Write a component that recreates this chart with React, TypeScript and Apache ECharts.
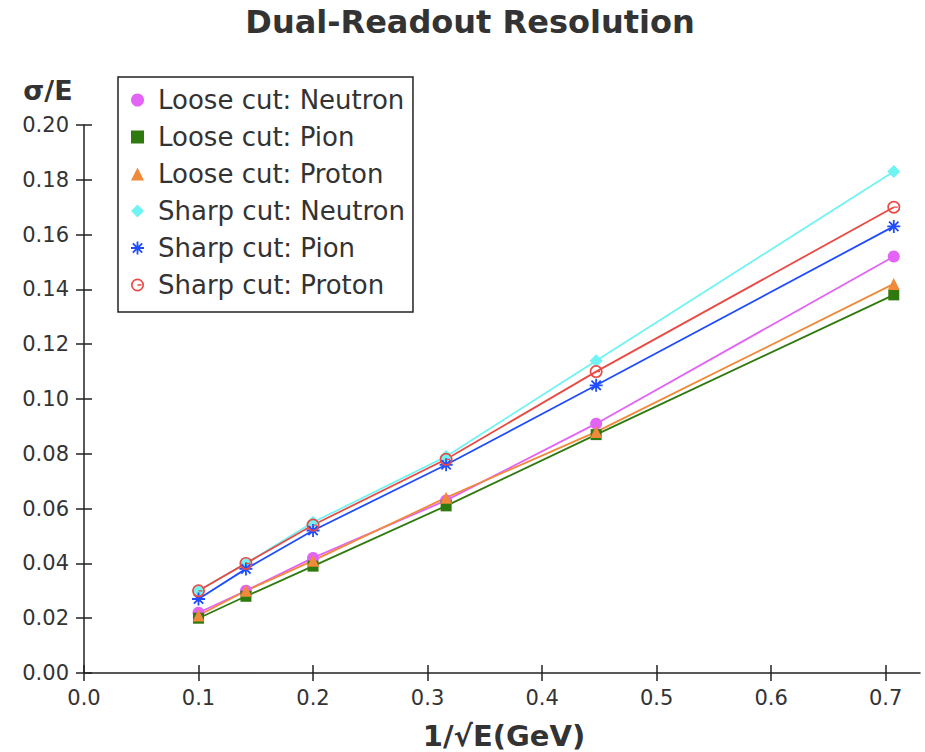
import React, { useEffect, useRef } from "react";
import * as echarts from "echarts";

// 1/sqrt(E) for beam energies 100, 50, 25, 10, 5, 2 GeV
const xValues = [0.1, 0.1414, 0.2, 0.3162, 0.4472, 0.7071];

const looseNeutron = [0.022, 0.030, 0.042, 0.063, 0.091, 0.152];
const loosePion = [0.020, 0.028, 0.039, 0.061, 0.087, 0.138];
const looseProton = [0.021, 0.030, 0.041, 0.064, 0.088, 0.142];
const sharpNeutron = [0.030, 0.040, 0.055, 0.079, 0.114, 0.183];
const sharpPion = [0.027, 0.038, 0.052, 0.076, 0.105, 0.163];
const sharpProton = [0.030, 0.040, 0.054, 0.078, 0.110, 0.170];

const xTicks = [0, 0.1, 0.2, 0.3, 0.4, 0.5, 0.6, 0.7];
const yTicks = [0, 0.02, 0.04, 0.06, 0.08, 0.1, 0.12, 0.14, 0.16, 0.18, 0.2];

const FONT = "DejaVu Sans";
const TEXT = "#333333";
const AXIS = "#222222";

const asterisk =
  "path://M8.6 0 H11.4 V20 H8.6 Z M0 8.6 H20 V11.4 H0 Z " +
  "M1.8 3.8 L3.8 1.8 L18.2 16.2 L16.2 18.2 Z " +
  "M16.2 1.8 L18.2 3.8 L3.8 18.2 L1.8 16.2 Z";

const ringBar =
  "path://M0 10 A10 10 0 1 1 20 10 A10 10 0 1 1 0 10 Z " +
  "M2.6 10 A7.4 7.4 0 1 0 17.4 10 A7.4 7.4 0 1 0 2.6 10 Z " +
  "M10 9 H16 V11 H10 Z";

const seriesDefs = [
  { name: "Loose cut: Neutron", data: looseNeutron, color: "#e263f5", symbol: "circle", size: 12 },
  { name: "Loose cut: Pion", data: loosePion, color: "#2f7a0e", symbol: "rect", size: 11 },
  { name: "Loose cut: Proton", data: looseProton, color: "#f08a3a", symbol: "triangle", size: 12 },
  { name: "Sharp cut: Neutron", data: sharpNeutron, color: "#6ff3f3", symbol: "diamond", size: 13 },
  { name: "Sharp cut: Pion", data: sharpPion, color: "#1f4cff", symbol: asterisk, size: 13 },
  { name: "Sharp cut: Proton", data: sharpProton, color: "#ea4a44", symbol: ringBar, size: 13 },
];

export default function App() {
  const ref = useRef<HTMLDivElement>(null);

  useEffect(() => {
    document.body.style.margin = "0";
    if (!ref.current) return;
    const chart = echarts.init(ref.current, null, { renderer: "svg" });

    const axisTickStyle = { color: AXIS, width: 1.5 };

    chart.setOption({
      animation: false,
      backgroundColor: "#ffffff",
      grid: { left: 84, right: 5, top: 125, bottom: 79, containLabel: false },
      legend: {
        orient: "vertical",
        left: 118,
        top: 77,
        padding: [8, 8, 12, 13],
        itemWidth: 13,
        itemHeight: 13,
        itemGap: 7,
        backgroundColor: "#ffffff",
        borderColor: "#222222",
        borderWidth: 1.5,
        borderRadius: 0,
        textStyle: {
          fontFamily: FONT,
          fontSize: 26,
          color: TEXT,
          lineHeight: 30,
          padding: [0, 0, 0, 9],
        },
        data: seriesDefs.map((s) => ({ name: s.name, icon: s.symbol })),
      },
      xAxis: [
        {
          type: "value",
          min: 0,
          max: 0.73,
          interval: 0.1,
          position: "bottom",
          axisLine: { show: true, onZero: false, lineStyle: { color: AXIS, width: 1.5 } },
          axisTick: { show: true, length: 8, lineStyle: axisTickStyle, customValues: xTicks },
          axisLabel: {
            fontFamily: FONT,
            fontSize: 21,
            color: TEXT,
            margin: 14,
            customValues: xTicks,
            formatter: (v: number) => v.toFixed(1),
          },
          splitLine: { show: false },
        },
        {
          type: "value",
          min: 0,
          max: 0.73,
          interval: 0.1,
          position: "bottom",
          axisLine: { show: false },
          axisTick: { show: true, inside: true, length: 8, lineStyle: axisTickStyle, customValues: xTicks },
          axisLabel: { show: false },
          splitLine: { show: false },
        },
      ],
      yAxis: [
        {
          type: "value",
          min: 0,
          max: 0.2,
          interval: 0.02,
          position: "left",
          axisLine: { show: true, onZero: false, lineStyle: { color: AXIS, width: 1.5 } },
          axisTick: { show: true, length: 8, lineStyle: axisTickStyle, customValues: yTicks },
          axisLabel: {
            fontFamily: FONT,
            fontSize: 21,
            color: TEXT,
            margin: 15,
            customValues: yTicks,
            formatter: (v: number) => v.toFixed(2),
          },
          splitLine: { show: false },
        },
        {
          type: "value",
          min: 0,
          max: 0.2,
          interval: 0.02,
          position: "left",
          axisLine: { show: false },
          axisTick: { show: true, inside: true, length: 8, lineStyle: axisTickStyle, customValues: yTicks },
          axisLabel: { show: false },
          splitLine: { show: false },
        },
      ],
      graphic: [
        {
          type: "text",
          x: 470,
          y: 22,
          style: {
            text: "Dual-Readout Resolution",
            fontFamily: FONT,
            fontWeight: "bold",
            fontSize: 32,
            fill: TEXT,
            align: "center",
            verticalAlign: "middle",
          },
        },
        {
          type: "text",
          x: 48,
          y: 90,
          style: {
            text: "σ/E",
            fontFamily: FONT,
            fontWeight: "bold",
            fontSize: 27,
            fill: TEXT,
            align: "center",
            verticalAlign: "middle",
          },
        },
        {
          type: "text",
          x: 504,
          y: 736,
          style: {
            text: "1/√E(GeV)",
            fontFamily: FONT,
            fontWeight: "bold",
            fontSize: 29,
            fill: TEXT,
            align: "center",
            verticalAlign: "middle",
          },
        },
      ],
      series: seriesDefs.map((s) => ({
        name: s.name,
        type: "line",
        xAxisIndex: 0,
        yAxisIndex: 0,
        data: xValues.map((x, i) => [x, s.data[i]]),
        symbol: s.symbol,
        symbolSize: s.size,
        showAllSymbol: true,
        lineStyle: { color: s.color, width: 1.8 },
        itemStyle: { color: s.color },
        emphasis: { disabled: true },
      })),
    });

    return () => chart.dispose();
  }, []);

  return <div ref={ref} style={{ width: 925, height: 752 }} />;
}
